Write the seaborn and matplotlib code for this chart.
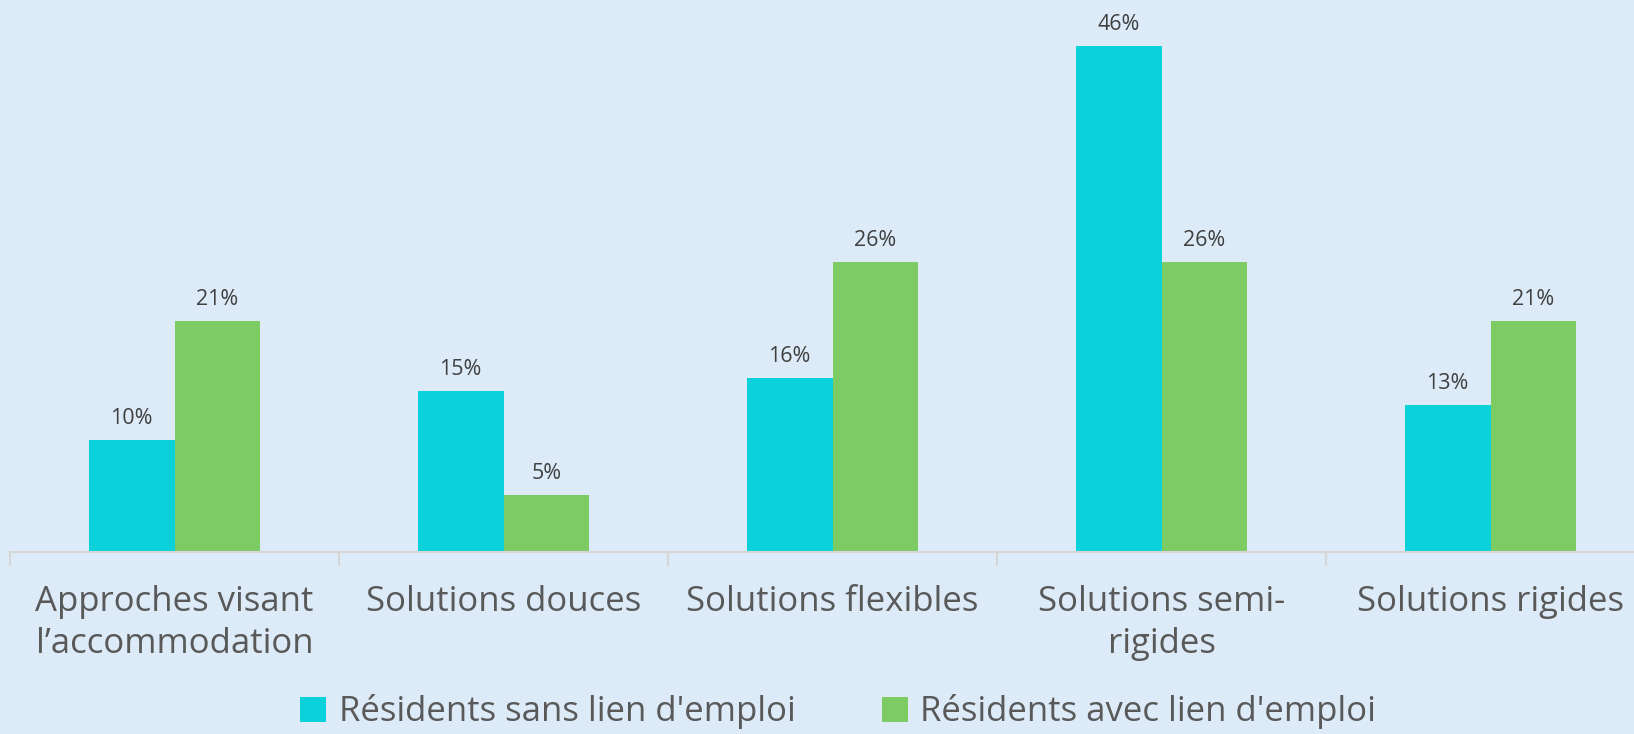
import pandas as pd
import matplotlib.pyplot as plt
import seaborn as sns
from matplotlib.patches import Patch

# data
categories = ["Approches visant\nl\u2019accommodation", "Solutions douces", "Solutions flexibles",
              "Solutions semi-\nrigides", "Solutions rigides"]
series = ["R\u00e9sidents sans lien d'emploi", "R\u00e9sidents avec lien d'emploi"]
sans_lien = [10.2, 14.6, 15.8, 46.0, 13.4]
avec_lien = [21.0, 5.2, 26.4, 26.4, 21.0]
colors = ["#0BD1DA", "#7DCC63"]

df = pd.DataFrame({
    "Categorie": categories * 2,
    "Groupe": [series[0]] * 5 + [series[1]] * 5,
    "Valeur": sans_lien + avec_lien,
})

bg = "#DDEBF9"
sns.set_theme(style="white")
plt.rcParams["font.family"] = ["Open Sans", "DejaVu Sans"]

fig = plt.figure(figsize=(16.34, 7.34), dpi=100, facecolor=bg)
ax = fig.add_axes([10 / 1634, 182 / 734, 1645 / 1634, 552 / 734])
ax.set_facecolor(bg)

sns.barplot(data=df, x="Categorie", y="Valeur", hue="Groupe", palette=colors,
            width=0.52, saturation=1, linewidth=0, ax=ax, legend=False)

# data labels
for cont in ax.containers:
    for bar in cont:
        h = bar.get_height()
        ax.annotate(f"{h:.0f}%", (bar.get_x() + bar.get_width() / 2, h),
                    xytext=(0, 8), textcoords="offset points",
                    ha="center", va="bottom", fontsize=15.5, color="#404040")

ax.set_xlim(-0.5, 4.5)
ax.set_ylim(0, 50.2)
ax.set_xlabel("")
ax.set_ylabel("")
ax.set_yticks([])
for s in ["top", "right", "left"]:
    ax.spines[s].set_visible(False)
ax.spines["bottom"].set_color("#D6D6D6")
ax.spines["bottom"].set_linewidth(1.5)

ax.set_xticks([-0.5, 0.5, 1.5, 2.5, 3.5, 4.5], minor=True)
ax.tick_params(axis="x", which="minor", length=10, width=1.5, color="#D6D6D6", direction="out", bottom=True)
ax.tick_params(axis="x", which="major", length=0, pad=24, labelsize=25, labelcolor="#595959")
for lbl in ax.get_xticklabels():
    lbl.set_linespacing(1.3)

handles = [Patch(facecolor=c, edgecolor="none") for c in colors]
fig.legend(handles, series, loc="center", bbox_to_anchor=(0.513, 0.03), ncol=2,
           frameon=False, fontsize=25, labelcolor="#595959", handlelength=0.75,
           handleheight=0.75, handletextpad=0.35, columnspacing=2.5)

plt.savefig("out.png", dpi=100, facecolor=bg)
